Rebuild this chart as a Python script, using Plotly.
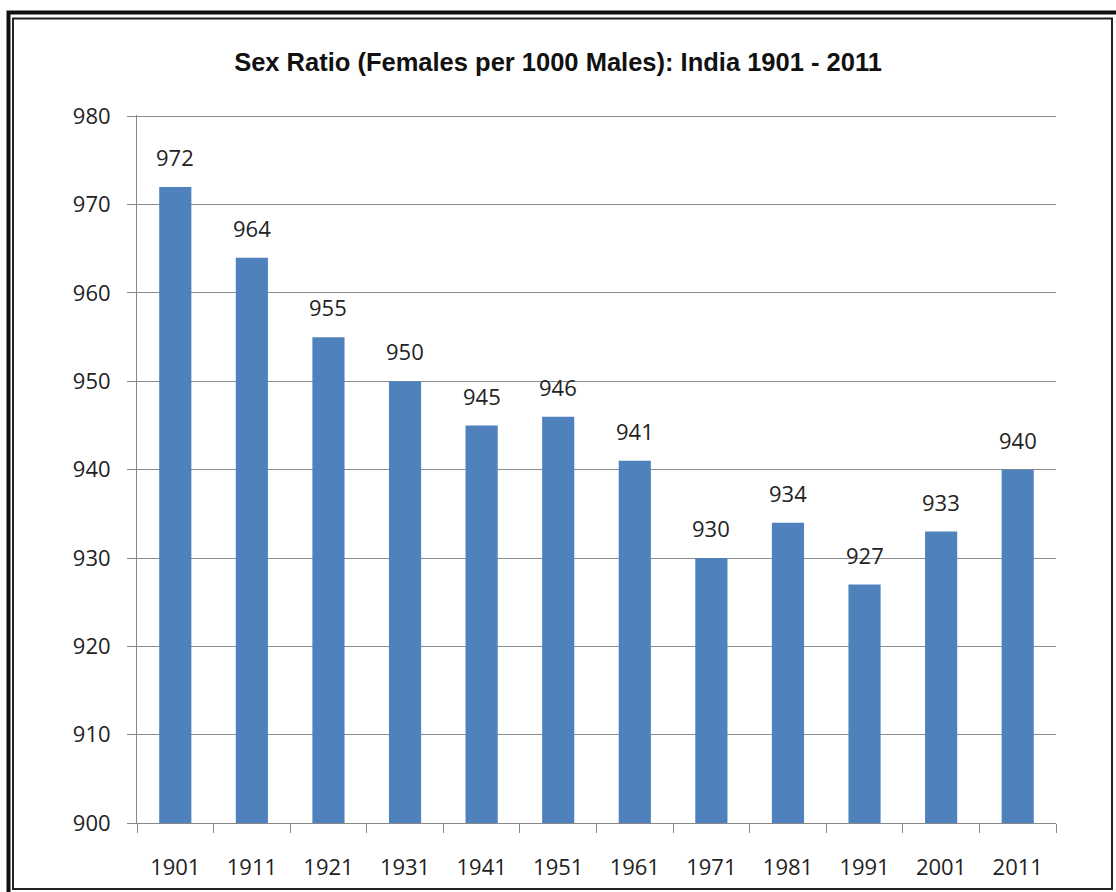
import plotly.graph_objects as go

# Census years and sex ratio (females per 1000 males)
years = ["1901", "1911", "1921", "1931", "1941", "1951",
         "1961", "1971", "1981", "1991", "2001", "2011"]
sex_ratio = [972, 964, 955, 950, 945, 946, 941, 930, 934, 927, 933, 940]
y_ticks = [900, 910, 920, 930, 940, 950, 960, 970, 980]

W, H = 1116, 892
L, R, T, B = 137, 60, 115, 69
FONT = "Open Sans, DejaVu Sans"


def px(x):
    return (x - L) / (W - L - R)


def py(y):
    return (H - B - y) / (H - T - B)


fig = go.Figure()

fig.add_trace(go.Bar(
    x=years, y=sex_ratio,
    marker=dict(color="#4F81BD", line=dict(width=0)),
    hoverinfo="x+y",
))

# value labels above the bars (x given as category index)
annotations = [
    dict(x=i, y=v, xref="x", yref="y", text=str(v), showarrow=False,
         yanchor="bottom", yshift=13,
         font=dict(family=FONT, size=22, color="#222222"))
    for i, v in enumerate(sex_ratio)
]

# picture frame
shapes = [
    dict(type="path", path=f"M {px(8.5)},{py(H)} L {px(8.5)},{py(12.5)} L {px(W)},{py(12.5)}",
         xref="paper", yref="paper", line=dict(color="#111111", width=4)),
    dict(type="rect", x0=px(13), y0=py(889), x1=px(1112), y1=py(18.5),
         xref="paper", yref="paper", line=dict(color="#222222", width=2)),
]

fig.update_layout(
    width=W, height=H,
    margin=dict(l=L, r=R, t=T, b=B, autoexpand=False),
    paper_bgcolor="white",
    plot_bgcolor="white",
    showlegend=False,
    bargap=0.58,
    shapes=shapes,
    annotations=annotations,
    title=dict(
        text="<b>Sex Ratio (Females per 1000 Males): India 1901 - 2011</b>",
        font=dict(family="Liberation Sans, Arial", size=25.5, color="#111111"),
        x=0.5, xanchor="center", xref="container",
        y=1 - 62 / H, yanchor="middle", yref="container",
    ),
)

fig.update_xaxes(
    type="category",
    range=[-0.5, len(years) - 0.5],
    automargin=False,
    showgrid=False,
    showline=True, linecolor="#888888", linewidth=1,
    ticks="outside", tickson="boundaries", ticklen=9, tickcolor="#888888",
    tickfont=dict(family=FONT, size=22, color="#222222"),
    tickangle=0,
    ticklabelstandoff=25,
)

fig.update_yaxes(
    range=[900, 980.15],
    tickvals=y_ticks,
    automargin=False,
    showgrid=True, gridcolor="#8c8c8c", gridwidth=1,
    showline=True, linecolor="#888888", linewidth=1,
    ticks="outside", ticklen=9, tickcolor="#888888",
    tickfont=dict(family=FONT, size=22, color="#222222"),
    ticklabelstandoff=12,
    zeroline=False,
)

fig.write_html(
    "out.html",
    config={"displayModeBar": False},
    post_script="document.body.style.margin='0';document.body.style.overflow='hidden';",
)
